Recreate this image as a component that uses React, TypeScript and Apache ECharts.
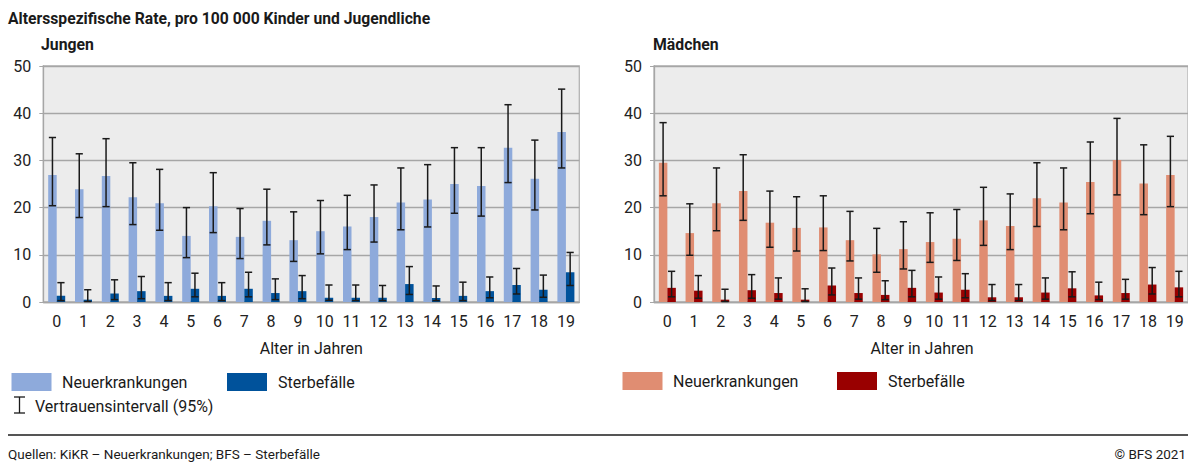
import React, { useEffect, useRef } from "react";
import * as echarts from "echarts";

const ages = ["0","1","2","3","4","5","6","7","8","9","10","11","12","13","14","15","16","17","18","19"];

const boysNew = [26.9, 23.9, 26.7, 22.2, 20.9, 14.0, 20.3, 13.8, 17.2, 13.1, 15.0, 16.0, 18.0, 21.1, 21.7, 25.0, 24.6, 32.7, 26.1, 36.0];
const boysNewLow = [20.4, 17.9, 20.2, 16.4, 15.2, 9.4, 14.7, 9.2, 12.1, 8.6, 10.2, 11.1, 12.7, 15.3, 15.9, 18.8, 18.2, 25.3, 19.5, 28.4];
const boysNewHigh = [34.85, 31.4, 34.6, 29.5, 28.1, 20.0, 27.4, 19.8, 23.9, 19.1, 21.5, 22.6, 24.8, 28.4, 29.1, 32.7, 32.7, 41.8, 34.3, 45.1];
const boysDeath = [1.3, 0.5, 1.8, 2.3, 1.3, 2.8, 1.3, 2.8, 1.9, 2.3, 0.9, 0.9, 0.9, 3.8, 0.85, 1.3, 2.3, 3.6, 2.6, 6.3];
const boysDeathLow = [0.3, 0.1, 0.5, 0.7, 0.3, 1.1, 0.3, 1.1, 0.5, 0.7, 0.35, 0.3, 0.3, 1.6, 0.3, 0.3, 0.9, 1.7, 1.0, 3.5];
const boysDeathHigh = [4.1, 2.6, 4.7, 5.4, 4.1, 6.1, 4.1, 6.3, 4.9, 5.6, 3.6, 3.6, 3.5, 7.5, 3.4, 4.2, 5.3, 7.1, 5.7, 10.5];

const girlsNew = [29.5, 14.6, 20.9, 23.5, 16.8, 15.7, 15.8, 13.1, 10.1, 11.2, 12.7, 13.4, 17.3, 16.1, 22.0, 21.1, 25.4, 30.1, 25.1, 26.9];
const girlsNewLow = [22.5, 9.9, 15.1, 17.3, 11.6, 10.8, 10.9, 8.7, 6.3, 7.0, 8.4, 8.8, 12.0, 11.1, 16.0, 15.3, 18.7, 22.7, 18.5, 20.2];
const girlsNewHigh = [38.0, 20.8, 28.4, 31.2, 23.5, 22.3, 22.5, 19.2, 15.6, 17.0, 18.9, 19.6, 24.3, 22.9, 29.5, 28.4, 33.9, 38.9, 33.3, 35.1];
const girlsDeath = [3.0, 2.4, 0.5, 2.5, 1.9, 0.5, 3.5, 1.9, 1.5, 3.0, 2.0, 2.6, 1.0, 1.0, 2.0, 2.9, 1.4, 1.9, 3.7, 3.1];
const girlsDeathLow = [1.1, 0.8, 0.1, 0.8, 0.6, 0.1, 1.5, 0.6, 0.5, 1.1, 0.6, 0.9, 0.3, 0.3, 0.6, 1.1, 0.5, 0.6, 1.7, 1.1];
const girlsDeathHigh = [6.5, 5.6, 2.7, 5.8, 5.1, 2.8, 7.2, 5.1, 4.5, 6.7, 5.3, 6.0, 3.7, 3.7, 5.1, 6.4, 4.2, 4.8, 7.3, 6.5];

const yTicks = { min: 0, max: 50, interval: 10 };

const FONT = "Roboto, 'Noto Sans', sans-serif";
const BAR_W = 8.5;

const C_BOY_NEW = "#8eaadb";
const C_BOY_DEATH = "#00529b";
const C_GIRL_NEW = "#e08d72";
const C_GIRL_DEATH = "#990000";

function errRender(offset: number) {
  return (params: any, api: any) => {
    const idx = api.value(0);
    const lo = api.coord([idx, api.value(1)]);
    const hi = api.coord([idx, api.value(2)]);
    const cx = lo[0] + offset;
    const cap = 3.6;
    const style = { stroke: "#1a1a1a", lineWidth: 1.5 };
    return {
      type: "group",
      children: [
        { type: "line", shape: { x1: cx, y1: lo[1], x2: cx, y2: hi[1] }, style },
        { type: "line", shape: { x1: cx - cap, y1: lo[1], x2: cx + cap, y2: lo[1] }, style },
        { type: "line", shape: { x1: cx - cap, y1: hi[1], x2: cx + cap, y2: hi[1] }, style },
      ],
    };
  };
}

function errData(low: number[], high: number[]) {
  return low.map((l, i) => [i, l, high[i]]);
}

export default function App() {
  const ref = useRef<HTMLDivElement>(null);
  useEffect(() => {
    document.body.style.margin = "0";
    const chart = echarts.init(ref.current!, null, { renderer: "svg" });

    const xAxisBase = (gridIndex: number) => ({
      type: "category",
      gridIndex,
      data: ages,
      axisLine: { show: true, lineStyle: { color: "#a6a6a6", width: 1.3 } },
      axisTick: { show: false },
      axisLabel: { color: "#222", fontSize: 16, fontFamily: FONT, margin: 11 },
    });
    const yAxisBase = (gridIndex: number) => ({
      type: "value",
      gridIndex,
      ...yTicks,
      axisLine: { show: true, lineStyle: { color: "#a6a6a6", width: 1.3 } },
      axisTick: { show: true, length: 4, lineStyle: { color: "#a6a6a6" } },
      axisLabel: { color: "#222", fontSize: 16, fontFamily: FONT, margin: 12 },
      splitLine: { show: true, lineStyle: { color: "#a6a6a6", width: 1.3 } },
    });

    const barSeries = (name: string, data: number[], color: string, idx: number) => ({
      type: "bar",
      name,
      data,
      xAxisIndex: idx,
      yAxisIndex: idx,
      barWidth: BAR_W,
      barGap: "0%",
      itemStyle: { color },
      z: 2,
    });
    const errSeries = (low: number[], high: number[], offset: number, idx: number) => ({
      type: "custom",
      xAxisIndex: idx,
      yAxisIndex: idx,
      renderItem: errRender(offset),
      data: errData(low, high),
      encode: { x: 0, y: [1, 2] },
      z: 5,
      silent: true,
    });

    const txt = (text: string, x: number, y: number, font: string, align = "left") => ({
      type: "text",
      x,
      y,
      silent: true,
      style: { text, font, fill: "#1a1a1a", align, verticalAlign: "middle" },
    });
    const rect = (x: number, y: number, w: number, h: number, fill: string) => ({
      type: "rect",
      shape: { x, y, width: w, height: h },
      style: { fill },
      silent: true,
    });
    const ln = (x1: number, y1: number, x2: number, y2: number, color: string, w: number) => ({
      type: "line",
      shape: { x1, y1, x2, y2 },
      style: { stroke: color, lineWidth: w },
      silent: true,
    });

    const option: any = {
      animation: false,
      backgroundColor: "#ffffff",
      grid: [
        { left: 43.3, top: 66, width: 536, height: 236, show: true, backgroundColor: "#ececec", borderColor: "#b3b3b3", borderWidth: 1.3 },
        { left: 654, top: 66, width: 536, height: 236, show: true, backgroundColor: "#ececec", borderColor: "#b3b3b3", borderWidth: 1.3 },
      ],
      xAxis: [xAxisBase(0), xAxisBase(1)],
      yAxis: [yAxisBase(0), yAxisBase(1)],
      series: [
        barSeries("Neuerkrankungen", boysNew, C_BOY_NEW, 0),
        barSeries("Sterbefälle", boysDeath, C_BOY_DEATH, 0),
        errSeries(boysNewLow, boysNewHigh, -BAR_W / 2, 0),
        errSeries(boysDeathLow, boysDeathHigh, BAR_W / 2, 0),
        barSeries("Neuerkrankungen", girlsNew, C_GIRL_NEW, 1),
        barSeries("Sterbefälle", girlsDeath, C_GIRL_DEATH, 1),
        errSeries(girlsNewLow, girlsNewHigh, -BAR_W / 2, 1),
        errSeries(girlsDeathLow, girlsDeathHigh, BAR_W / 2, 1),
      ],
      graphic: [
        txt("Altersspezifische Rate, pro 100 000 Kinder und Jugendliche", 8, 18, `bold 15.7px ${FONT}`),
        txt("Jungen", 41, 44, `bold 15.8px ${FONT}`),
        txt("Mädchen", 653, 44, `bold 15.8px ${FONT}`),
        txt("Alter in Jahren", 311.3, 348, `16px ${FONT}`, "center"),
        txt("Alter in Jahren", 922, 348, `16px ${FONT}`, "center"),
        // left legend
        rect(11.5, 373, 40, 18, C_BOY_NEW),
        txt("Neuerkrankungen", 62, 382, `16px ${FONT}`),
        rect(227, 373, 40, 18, C_BOY_DEATH),
        txt("Sterbefälle", 278, 382, `16px ${FONT}`),
        ln(19.5, 397, 19.5, 413, "#1a1a1a", 1.3),
        ln(14, 397, 25, 397, "#1a1a1a", 1.3),
        ln(14, 413, 25, 413, "#1a1a1a", 1.3),
        txt("Vertrauensintervall (95%)", 35, 406, `16px ${FONT}`),
        // right legend
        rect(622.5, 372, 40, 18, C_GIRL_NEW),
        txt("Neuerkrankungen", 673, 381, `16px ${FONT}`),
        rect(837, 372, 40, 18, C_GIRL_DEATH),
        txt("Sterbefälle", 888, 381, `16px ${FONT}`),
        // footer
        ln(8, 435, 1188, 435, "#555555", 2),
        txt("Quellen: KiKR – Neuerkrankungen; BFS – Sterbefälle", 8, 454, `13.5px ${FONT}`),
        txt("© BFS 2021", 1186, 454, `13.5px ${FONT}`, "right"),
      ],
    };
    chart.setOption(option);
    return () => chart.dispose();
  }, []);
  return <div ref={ref} style={{ position: "absolute", left: 0, top: 0, width: 1188, height: 462, overflow: "hidden" }} />;
}
